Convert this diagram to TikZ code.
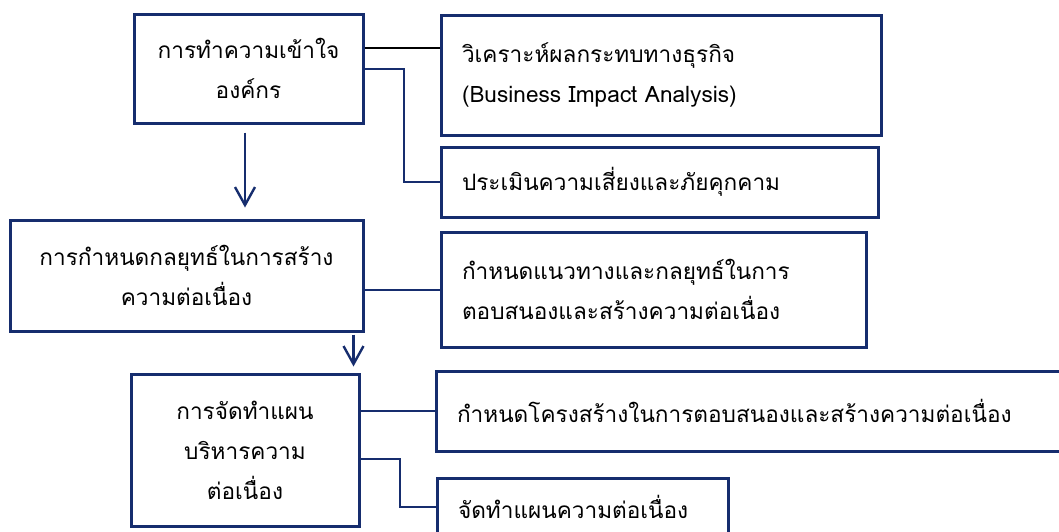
\documentclass[tikz,border=0pt]{standalone}
\usepackage{fontspec}
\newfontfamily\thaifont[Script=Thai]{Loma}
\usetikzlibrary{arrows.meta,calc,positioning}
\definecolor{navy}{RGB}{22,45,110}
\tikzset{
  box/.style={draw=navy, line width=1.5pt, fill=white, inner sep=0pt,
    font=\thaifont\fontsize{11.3}{20}\selectfont},
  cbox/.style={box, align=center},
  lbox/.style={box, align=left, text width=#1, inner xsep=10.5pt},
  link/.style={navy, line width=1pt},
  flow/.style={navy, line width=1.2pt, -{Straight Barb[length=9pt,width=10pt,line width=1.2pt]}}
}
\begin{document}
\begin{tikzpicture}[x=0.5pt, y=-0.5pt]
  \useasboundingbox (0,0) rectangle (1059,531);
  % left column
  \node[cbox, minimum width=114.5pt, minimum height=54.5pt] (understand) at (248.5,68.5)
    {การทำความเข้าใจ\\องค์กร};
  \node[cbox, minimum width=176.5pt, minimum height=55.5pt] (strategy) at (186.5,275.5)
    {การกำหนดกลยุทธ์ในการสร้าง\\ความต่อเนื่อง};
  \node[cbox, minimum width=114pt, minimum height=76pt] (plan) at (245,450)
    {การจัดทำแผน\\บริหารความ\\ต่อเนื่อง};
  % right column
  \node[lbox=199pt, minimum height=60pt] (bia) at (661,75)
    {วิเคราะห์ผลกระทบทางธุรกิจ\\(Business Impact Analysis)};
  \node[lbox=197.5pt, minimum height=35pt] (risk) at (659.5,182)
    {ประเมินความเสี่ยงและภัยคุกคาม};
  \node[lbox=191.5pt, minimum height=57.5pt] (guide) at (653.5,289.5)
    {กำหนดแนวทางและกลยุทธ์ในการ\\ตอบสนองและสร้างความต่อเนื่อง};
  \node[lbox=292pt, minimum height=40pt] (struct) at (749,411)
    {กำหนดโครงสร้างในการตอบสนองและสร้างความต่อเนื่อง};
  \node[lbox=124.5pt, minimum height=29pt] (doplan) at (582.5,507)
    {จัดทำแผนความต่อเนื่อง};
  % connectors
  \coordinate (top) at ($(understand.east)+(0,-20.5)$);
  \draw[line width=1pt] (top) -- (top -| bia.west);
  \draw[link] (understand.east) -- ++(39,0) |- (risk.west);
  \draw[link] (guide.west -| strategy.east) -- (guide.west);
  \draw[link] (struct.west -| plan.east) -- (struct.west);
  \draw[link] ($(plan.east)+(0,9)$) -- ++(39,0) |- (doplan.west);
  % flow arrows
  \draw[flow, shorten <=4pt, shorten >=5.5pt] ($(understand.south)+(-3.5,0)$) -- ($(understand.south |- strategy.north)+(-3.5,0)$);
  \coordinate (down) at ($(strategy.south east)+(-11,0)$);
  \draw[flow, shorten <=1pt, shorten >=3pt] (down) -- (down |- plan.north);
\end{tikzpicture}
\end{document}
